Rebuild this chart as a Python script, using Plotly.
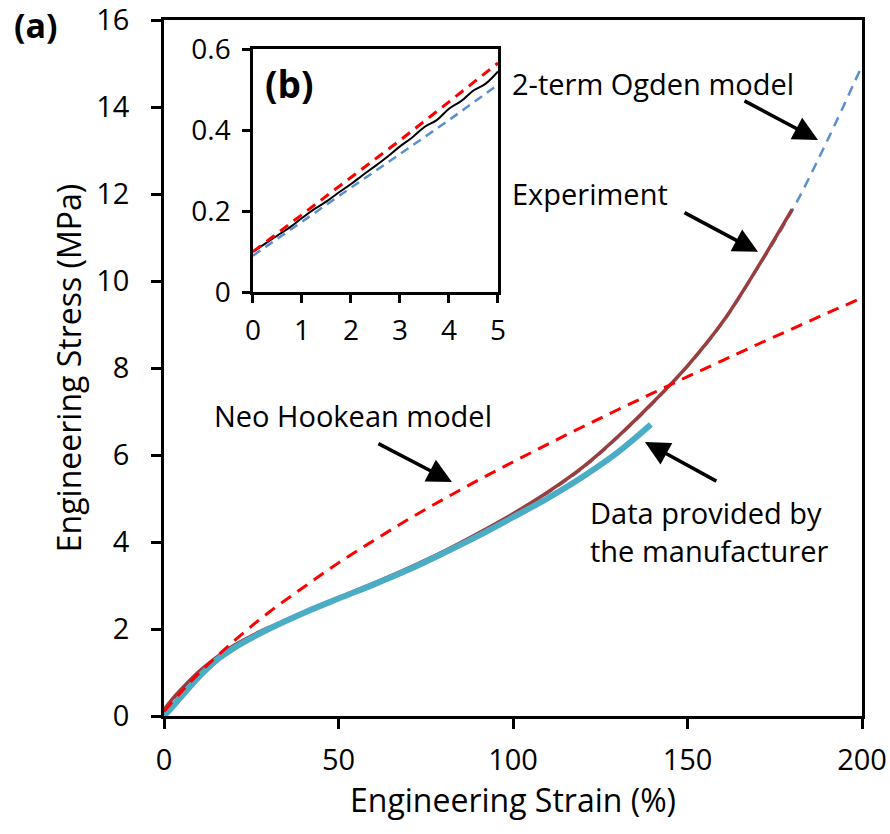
import plotly.graph_objects as go

# ---- main chart data (strain %, stress MPa) ----
exp_strain = [0, 2.5, 5, 10, 15, 20, 25, 30, 40, 50, 60, 70, 80, 90, 100, 110, 120, 130, 140, 150, 160, 170, 180]
exp_stress = [0.15, 0.40, 0.62, 1.02, 1.35, 1.62, 1.84, 2.03, 2.38, 2.72, 3.05, 3.40, 3.78, 4.20, 4.65, 5.15, 5.72, 6.42, 7.20, 8.05, 9.05, 10.30, 11.65]

manu_strain = [0, 2.5, 5, 10, 15, 20, 25, 30, 40, 50, 60, 70, 80, 90, 100, 110, 120, 130, 139.5]
manu_stress = [0.0, 0.22, 0.45, 0.90, 1.28, 1.56, 1.79, 2.00, 2.37, 2.70, 3.02, 3.36, 3.74, 4.14, 4.57, 5.01, 5.50, 6.06, 6.70]

ogden_strain = [0, 5, 10, 20, 30, 40, 50, 60, 70, 80, 90, 100, 110, 120, 130, 140, 150, 160, 170, 180, 190, 200]
ogden_stress = [0.09, 0.60, 1.00, 1.60, 2.01, 2.37, 2.71, 3.04, 3.39, 3.77, 4.19, 4.64, 5.13, 5.70, 6.40, 7.18, 8.03, 9.03, 10.28, 11.62, 13.22, 14.95]

neo_strain = [0, 5, 10, 20, 30, 40, 50, 60, 70, 80, 90, 100, 110, 120, 130, 140, 150, 160, 170, 180, 190, 200]
neo_stress = [0.10, 0.56, 0.98, 1.72, 2.38, 2.96, 3.52, 4.03, 4.52, 4.98, 5.42, 5.84, 6.25, 6.65, 7.04, 7.42, 7.80, 8.17, 8.54, 8.90, 9.26, 9.61]

# ---- inset data (strain 0-5 %) ----
in_exp_strain = [0, 0.25, 0.5, 0.75, 1, 1.25, 1.5, 1.75, 2, 2.25, 2.5, 2.75, 3, 3.25, 3.5, 3.75, 4, 4.25, 4.5, 4.75, 5]
in_exp_stress = [0.100, 0.120, 0.140, 0.160, 0.183, 0.205, 0.224, 0.246, 0.267, 0.290, 0.312, 0.335, 0.360, 0.382, 0.408, 0.425, 0.453, 0.472, 0.498, 0.515, 0.545]
in_neo_strain = [0, 1, 2, 3, 4, 5]
in_neo_stress = [0.100, 0.192, 0.283, 0.375, 0.470, 0.566]
in_ogden_strain = [0, 1, 2, 3, 4, 5]
in_ogden_stress = [0.090, 0.175, 0.258, 0.341, 0.425, 0.512]

x_ticks = [0, 50, 100, 150, 200]
y_ticks = [0, 2, 4, 6, 8, 10, 12, 14, 16]
in_x_ticks = [0, 1, 2, 3, 4, 5]
in_y_ticks = [0, 0.2, 0.4, 0.6]

FONT = "Open Sans"
RED = "#ff0000"
BLUE = "#5b8fd0"
BROWN = "#9a3d3d"
CYAN = "#4bacc6"

fig = go.Figure()
# main traces
fig.add_trace(go.Scatter(x=ogden_strain, y=ogden_stress, mode="lines", line=dict(color=BLUE, width=2.5, dash="10px,7px", shape="spline")))
fig.add_trace(go.Scatter(x=exp_strain, y=exp_stress, mode="lines", line=dict(color=BROWN, width=3.5, shape="spline")))
fig.add_trace(go.Scatter(x=manu_strain, y=manu_stress, mode="lines", line=dict(color=CYAN, width=6, shape="spline")))
fig.add_trace(go.Scatter(x=neo_strain, y=neo_stress, mode="lines", line=dict(color=RED, width=3, dash="12px,8px", shape="spline")))
# inset traces
fig.add_trace(go.Scatter(x=in_ogden_strain, y=in_ogden_stress, mode="lines", xaxis="x2", yaxis="y2", line=dict(color=BLUE, width=2.5, dash="9px,6px")))
fig.add_trace(go.Scatter(x=in_exp_strain, y=in_exp_stress, mode="lines", xaxis="x2", yaxis="y2", line=dict(color="#000000", width=2, shape="spline")))
fig.add_trace(go.Scatter(x=in_neo_strain, y=in_neo_stress, mode="lines", xaxis="x2", yaxis="y2", line=dict(color=RED, width=3, dash="10px,7px")))

axis_common = dict(showline=True, linecolor="black", linewidth=2.5, mirror=True, ticks="outside",
                   tickcolor="black", tickwidth=2.5, showgrid=False, zeroline=False, automargin=False,
                   ticklabeloverflow="allow")

fig.update_layout(
    width=890, height=834,
    margin=dict(l=164, r=28, t=20, b=118),
    paper_bgcolor="white", plot_bgcolor="white",
    showlegend=False,
    font=dict(family=FONT, color="black", size=29),
    xaxis=dict(range=[0, 200], tickvals=x_ticks, ticklen=10, ticklabelstandoff=6,
               tickfont=dict(size=29),
               title=dict(text="Engineering Strain (%)", font=dict(size=32), standoff=12), **axis_common),
    yaxis=dict(range=[0, 16], tickvals=y_ticks, ticklen=10, ticklabelstandoff=16,
               tickfont=dict(size=29),
               title=dict(text="Engineering Stress (MPa)", font=dict(size=32), standoff=6), **axis_common),
    xaxis2=dict(domain=[0.1275, 0.4785], anchor="y2", range=[0, 5], tickvals=in_x_ticks, ticklen=8,
                ticklabelstandoff=4, tickfont=dict(size=28), **axis_common),
    yaxis2=dict(domain=[0.609, 0.958], anchor="x2", range=[0, 0.6], tickvals=in_y_ticks, ticklen=8,
                ticklabelstandoff=6, tickfont=dict(size=28), **axis_common),
)

def arrow(hx, hy, tx, ty):
    fig.add_annotation(x=hx, y=hy, ax=tx, ay=ty, xref="x", yref="y", axref="x", ayref="y",
                       text="", showarrow=True, arrowhead=2, arrowsize=1.4, arrowwidth=3.5,
                       arrowcolor="black", standoff=0)

arrow(187.4, 13.24, 165.9, 14.16)
arrow(170.2, 10.67, 148.7, 11.59)
arrow(82.5, 5.38, 61.0, 6.28)
arrow(137.8, 6.30, 158.7, 5.38)

def label(x, y, text, xanchor="left", size=29):
    fig.add_annotation(x=x, y=y, xref="x", yref="y", text=text, showarrow=False,
                       xanchor=xanchor, yanchor="middle", font=dict(size=size, family=FONT), align="left")

label(99, 14.55, "2-term Ogden model")
label(99, 12.02, "Experiment")
label(54.2, 6.9, "Neo Hookean model", xanchor="center")
label(121.5, 4.25, "Data provided by<br>the manufacturer")

fig.add_annotation(x=-0.183, y=0.9935, xref="paper", yref="paper", text="<b>(a)</b>", showarrow=False,
                   xanchor="center", yanchor="middle", font=dict(size=34, family=FONT))
fig.add_annotation(x=0.755, y=0.516, xref="x2", yref="y2", text="<b>(b)</b>", showarrow=False,
                   xanchor="center", yanchor="middle", font=dict(size=37, family=FONT))

fig.write_html("out.html")
